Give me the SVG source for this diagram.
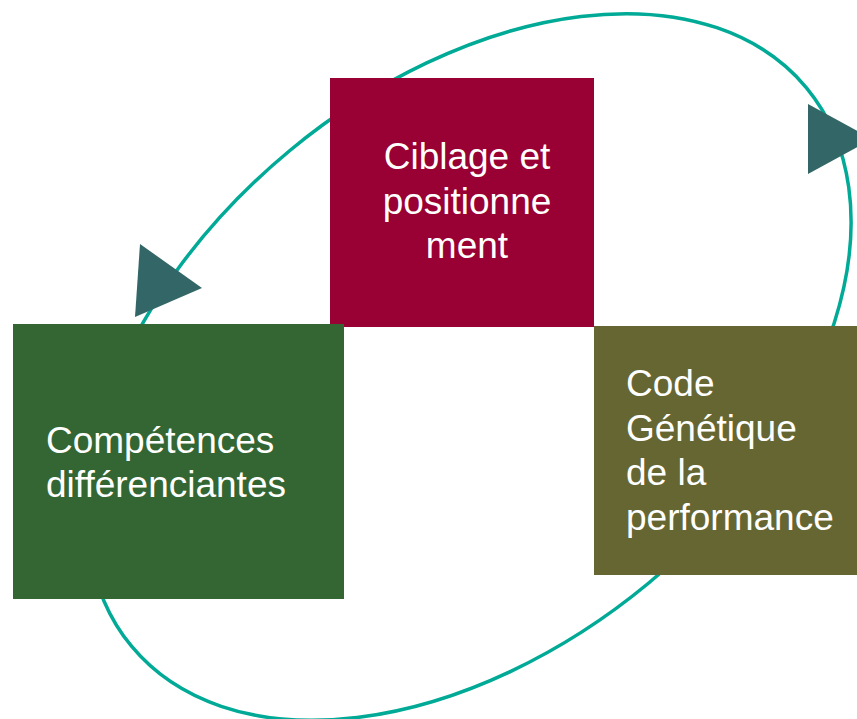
<svg xmlns="http://www.w3.org/2000/svg" width="857" height="719" viewBox="0 0 857 719">
<style>
.lbl{font-family:"Liberation Sans",Arial,sans-serif;font-size:37px;fill:#ffffff}
.cyc{fill:none;stroke:#00AA96;stroke-width:3.5}
.head{fill:#336666}
</style>
<rect width="857" height="719" fill="#ffffff"/>
<g id="connectors">
<ellipse class="cyc" cx="469" cy="367" rx="438" ry="281" transform="rotate(-39.6 469 367)"/>
<polygon class="head" points="140,244 135,317 202,288"/>
<polygon class="head" points="808,104 808,174 872,139"/>
</g>
<g id="ciblage">
<rect x="330" y="78" width="264" height="249" fill="#990033"/>
<text class="lbl" text-anchor="middle"><tspan x="467" y="169">Ciblage et</tspan><tspan x="467" y="213.5">positionne</tspan><tspan x="467" y="258">ment</tspan></text>
</g>
<g id="competences">
<rect x="13" y="324" width="331" height="275" fill="#336633"/>
<text class="lbl"><tspan x="46" y="452.5">Compétences</tspan><tspan x="46" y="496.5">différenciantes</tspan></text>
</g>
<g id="code">
<rect x="594" y="326" width="263" height="249" fill="#666633"/>
<text class="lbl"><tspan x="626" y="396">Code</tspan><tspan x="626" y="440.5">Génétique</tspan><tspan x="626" y="485">de la</tspan><tspan x="626" y="529.5">performance</tspan></text>
</g>
</svg>
